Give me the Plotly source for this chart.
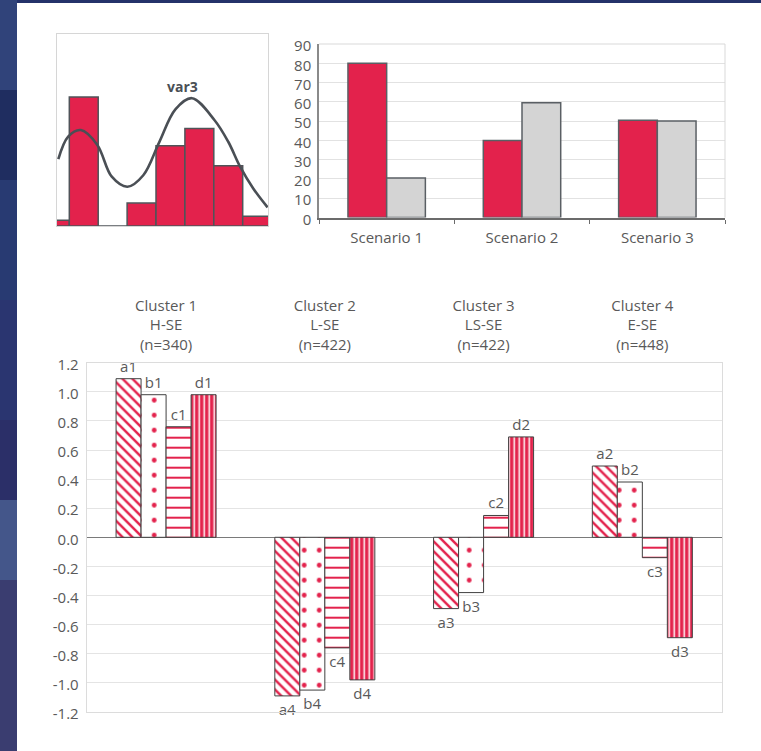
import plotly.graph_objects as go

W, H = 761, 751

# ---------------- data ----------------
# histogram "var3"
hist_bins = [0, 1, 2, 3, 4, 5, 6, 7]
hist_counts = [2, 45, 0, 8, 28, 34, 21, 3.4]
curve_x = [0.12, 0.46, 0.90, 1.47, 1.97, 2.51, 3.06, 3.61, 4.17, 4.74, 5.52, 6.00, 6.41, 6.87, 7.36]
curve_y = [23.3, 31.2, 33.5, 28.3, 17.2, 13.7, 17.7, 29.2, 40.7, 44.6, 37.0, 29.4, 20.7, 13.0, 6.5]

# scenario bar chart
scenarios = ["Scenario 1", "Scenario 2", "Scenario 3"]
red_vals = [80, 40, 50.5]
gray_vals = [20.5, 59.5, 50]
y2_ticks = [0, 10, 20, 30, 40, 50, 60, 70, 80, 90]

# cluster chart
clusters = ["Cluster 1<br>H-SE<br>(n=340)", "Cluster 2<br>L-SE<br>(n=422)",
            "Cluster 3<br>LS-SE<br>(n=422)", "Cluster 4<br>E-SE<br>(n=448)"]
a_vals = [1.09, -1.09, -0.49, 0.49]
a_labels = ["a1", "a4", "a3", "a2"]
b_vals = [0.98, -1.05, -0.38, 0.38]
b_labels = ["b1", "b4", "b3", "b2"]
c_vals = [0.76, -0.76, 0.15, -0.14]
c_labels = ["c1", "c4", "c2", "c3"]
d_vals = [0.98, -0.98, 0.69, -0.69]
d_labels = ["d1", "d4", "d2", "d3"]
y3_ticks = [-1.2, -1.0, -0.8, -0.6, -0.4, -0.2, 0.0, 0.2, 0.4, 0.6, 0.8, 1.0, 1.2]
y3_tick_labels = ["-1.2", "-1.0", "-0.8", "-0.6", "-0.4", "-0.2", "0.0",
                  "0.2", "0.4", "0.6", "0.8", "1.0", "1.2"]

# ---------------- style ----------------
RED = "#e3224c"
GRAY_BAR = "#d4d4d4"
TXT = "#595959"
FONT = "Open Sans"

fig = go.Figure()

# histogram
fig.add_trace(go.Bar(x=hist_bins, y=hist_counts, width=1, xaxis="x", yaxis="y",
                     marker=dict(color=RED, line=dict(color="#4f5459", width=1.5)),
                     showlegend=False, hoverinfo="skip"))
fig.add_trace(go.Scatter(x=curve_x, y=curve_y, mode="lines", xaxis="x", yaxis="y",
                         line=dict(color="#4a4f55", width=2.6, shape="spline", smoothing=1.0),
                         showlegend=False, hoverinfo="skip"))

# scenarios
bw2 = 0.286
fig.add_trace(go.Bar(x=scenarios, y=red_vals, xaxis="x2", yaxis="y2", width=bw2, offset=-bw2,
                     marker=dict(color=RED, line=dict(color="#5a5f64", width=1.5)),
                     showlegend=False))
fig.add_trace(go.Bar(x=scenarios, y=gray_vals, xaxis="x2", yaxis="y2", width=bw2, offset=0,
                     marker=dict(color=GRAY_BAR, line=dict(color="#5a5f64", width=1.5)),
                     showlegend=False))

# clusters
bw3 = 0.1575
patterns = [
    dict(shape="\\", fgcolor=RED, bgcolor="white", size=7, solidity=0.35, fgopacity=1),
    dict(shape=".", fgcolor=RED, bgcolor="white", size=15, solidity=0.08, fgopacity=1),
    dict(shape="-", fgcolor=RED, bgcolor="white", size=10, solidity=0.2, fgopacity=1),
    dict(shape="|", fgcolor="white", bgcolor=RED, size=5, solidity=0.3, fgopacity=1),
]
for i, (vals, labs) in enumerate([(a_vals, a_labels), (b_vals, b_labels),
                                  (c_vals, c_labels), (d_vals, d_labels)]):
    fig.add_trace(go.Bar(x=clusters, y=vals, xaxis="x3", yaxis="y3",
                         width=bw3, offset=-2 * bw3 + i * bw3,
                         text=labs, textposition="outside", cliponaxis=False,
                         textfont=dict(family=FONT, size=15, color=TXT),
                         marker=dict(color=RED, opacity=1, pattern=patterns[i],
                                     line=dict(color="#404040", width=1)),
                         showlegend=False))

shapes = []
# navy background bands (left strip)
bands = [(0, 90, "#30437a"), (90, 180, "#1f2d60"), (180, 300, "#283a72"),
         (300, 420, "#2a3570"), (420, 500, "#2b2f68"), (500, 580, "#44568a"),
         (580, 751, "#3a3d70")]
for y0, y1, col in bands:
    shapes.append(dict(type="rect", xref="paper", yref="paper", layer="below",
                       x0=0, x1=17 / W, y0=1 - y1 / H, y1=1 - y0 / H,
                       fillcolor=col, line=dict(width=0)))
# white panel
shapes.append(dict(type="rect", xref="paper", yref="paper", layer="below",
                   x0=17 / W, x1=1, y0=0, y1=1 - 3 / H,
                   fillcolor="white", line=dict(width=0)))
# light border top/right of scenario chart
shapes.append(dict(type="line", xref="x2 domain", yref="y2 domain", x0=0, x1=1, y0=1, y1=1,
                   line=dict(color="#d9d9d9", width=1)))
shapes.append(dict(type="line", xref="x2 domain", yref="y2 domain", x0=1, x1=1, y0=0, y1=1,
                   line=dict(color="#d9d9d9", width=1)))

fig.update_layout(
    width=W, height=H,
    margin=dict(l=0, r=0, t=0, b=0, pad=0, autoexpand=False),
    paper_bgcolor="#24326a",
    plot_bgcolor="white",
    barmode="overlay",
    font=dict(family=FONT, size=15, color=TXT),
    shapes=shapes,
    annotations=[dict(text="<b>var3</b>", xref="paper", yref="paper",
                      x=165 / W, y=1 - 75 / H, showarrow=False,
                      font=dict(family=FONT, size=14, color="#4a4f55"))],
    xaxis=dict(domain=[57 / W, 268 / W], anchor="y", range=[0.074, 7.375], automargin=False,
               showticklabels=False, showgrid=False, zeroline=False,
               showline=True, mirror=True, linecolor="#d6d6d6", linewidth=1),
    yaxis=dict(domain=[1 - 226 / H, 1 - 34 / H], anchor="x", range=[0, 67], automargin=False,
               showticklabels=False, showgrid=False, zeroline=False,
               showline=True, mirror=True, linecolor="#d6d6d6", linewidth=1),
    xaxis2=dict(domain=[319 / W, 725 / W], anchor="y2", type="category", automargin=False,
                range=[-0.5, 2.5], showgrid=False, zeroline=False,
                showline=True, linecolor="#6b6b6b", linewidth=2,
                ticks="outside", tickson="boundaries", ticklen=4, tickcolor="#6b6b6b",
                tickfont=dict(family=FONT, size=15, color=TXT), ticklabelstandoff=5),
    yaxis2=dict(domain=[1 - 217.5 / H, 1 - 44 / H], anchor="x2", range=[0, 90], automargin=False,
                tickvals=y2_ticks, gridcolor="#e2e2e2", zeroline=False,
                showline=True, linecolor="#8a8a8a", linewidth=1.5,
                tickfont=dict(family=FONT, size=15, color=TXT), ticklabelshift=2,
                ticklabelstandoff=3),
    xaxis3=dict(domain=[86.7 / W, 721.7 / W], anchor="y3", type="category", side="top",
                range=[-0.5, 3.5], showgrid=False, zeroline=False, automargin=False,
                showline=True, mirror=True, linecolor="#dcdcdc", linewidth=1,
                ticks="", tickfont=dict(family=FONT, size=15, color=TXT),
                ticklabelstandoff=6),
    yaxis3=dict(domain=[1 - 711.9 / H, 1 - 362.7 / H], anchor="x3", range=[-1.2, 1.2],
                tickvals=y3_ticks, ticktext=y3_tick_labels, gridcolor="#e4e4e4", automargin=False,
                zeroline=True, zerolinecolor="#7a7a7a", zerolinewidth=1,
                showline=True, mirror=True, linecolor="#dcdcdc", linewidth=1,
                tickfont=dict(family=FONT, size=15, color=TXT), ticklabelshift=2,
                ticklabelstandoff=4),
)

fig.write_html("out.html", config={"displayModeBar": False},
               post_script="document.body.style.margin='0px';document.body.style.overflow='hidden';")
